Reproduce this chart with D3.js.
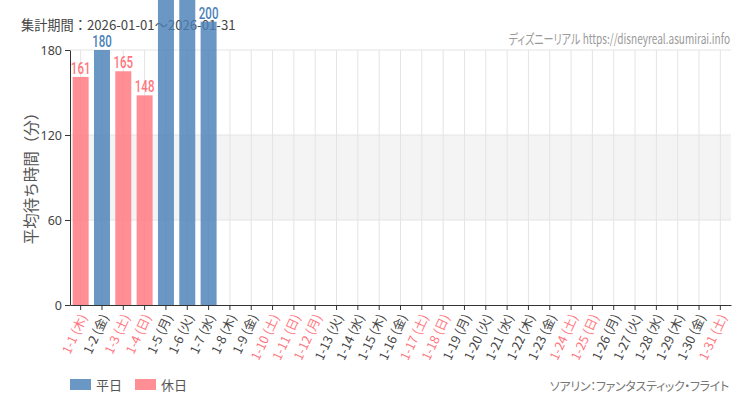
<!DOCTYPE html>
<html>
<head>
<meta charset="utf-8">
<script src="https://cdn.jsdelivr.net/npm/d3@7"></script>
<style>
  body { margin: 0; background: #fff; }
  text { font-family: "Noto Sans CJK JP", "Noto Sans", sans-serif; }
  .num { font-family: Roboto, "DejaVu Sans", sans-serif; font-weight: 500; }
  .palt { font-feature-settings: "palt"; }
</style>
</head>
<body>
<svg class="plot" width="750" height="410"></svg>
<script>
// data
var dates = ["1-1","1-2","1-3","1-4","1-5","1-6","1-7","1-8","1-9","1-10",
             "1-11","1-12","1-13","1-14","1-15","1-16","1-17","1-18","1-19","1-20",
             "1-21","1-22","1-23","1-24","1-25","1-26","1-27","1-28","1-29","1-30","1-31"];
var weekdays = ["木","金","土","日","月","火","水","木","金","土",
                "日","月","火","水","木","金","土","日","月","火",
                "水","木","金","土","日","月","火","水","木","金","土"];
var holidays = ["1-1","1-3","1-4","1-10","1-11","1-12","1-17","1-18","1-24","1-25","1-31"];
var waits = [161, 180, 165, 148, 230, 235, 200];   // 1-5, 1-6 run off the top
var yTicks = [0, 60, 120, 180];

var svg = d3.select(".plot"),
    margin = {top: 50, right: 19, bottom: 105, left: 70},
    width = +svg.attr("width") - margin.left - margin.right,
    height = +svg.attr("height") - margin.top - margin.bottom;

var blue = "#4a80b8", pink = "#ff767e";

var x = d3.scaleBand().domain(dates).range([0, width]).paddingInner(0.25).paddingOuter(0.125),
    y = d3.scaleLinear().domain([0, 180]).range([height, 0]);

var isHoliday = function(d) { return holidays.indexOf(d) >= 0; };

// header texts (drawn first, bars cover them)
svg.append("text")
    .attr("x", 21).attr("y", 30)
    .style("font-size", "13.2px").style("fill", "#444")
    .text("集計期間：2026-01-01～2026-01-31");

var g = svg.append("g")
    .attr("transform", "translate(" + margin.left + "," + margin.top + ")");

//background band and grid
g.append("rect")
    .attr("x", 0).attr("width", width)
    .attr("y", y(120)).attr("height", y(60) - y(120))
    .style("fill", "#f4f4f4");

g.selectAll(".hgrid")
    .data(yTicks.slice(1))
    .enter().append("line")
    .attr("x1", 0).attr("x2", width)
    .attr("y1", function(d) { return y(d); }).attr("y2", function(d) { return y(d); })
    .style("stroke", "#e4e4e4");

g.selectAll(".vgrid")
    .data(dates)
    .enter().append("line")
    .attr("x1", function(d) { return x(d) + x.bandwidth() / 2; })
    .attr("x2", function(d) { return x(d) + x.bandwidth() / 2; })
    .attr("y1", 0).attr("y2", height)
    .style("stroke", "#e4e4e4");

// watermark, squeezed to look condensed
svg.append("text")
    .attr("class", "palt")
    .attr("transform", "translate(730,44) scale(0.745,1)")
    .attr("text-anchor", "end")
    .style("font-size", "13.5px").style("fill", "#999")
    .text("ディズニーリアル https://disneyreal.asumirai.info");

//bars
var bars = dates.slice(0, waits.length).map(function(d, i) { return {date: d, v: waits[i]}; });

g.selectAll(".bar")
    .data(bars)
    .enter().append("rect")
    .attr("x", function(d) { return x(d.date); })
    .attr("y", function(d) { return y(d.v); })
    .attr("width", x.bandwidth())
    .attr("height", function(d) { return height - y(d.v); })
    .style("fill", function(d) { return isHoliday(d.date) ? pink : blue; })
    .style("opacity", 0.82);

// labels off the top of the picture are not shown
g.selectAll(".bar-label")
    .data(bars.filter(function(d) { return y(d.v) - 3 + margin.top > 12; }))
    .enter().append("text")
    .attr("class", "num")
    .attr("transform", function(d) {
      return "translate(" + (x(d.date) + x.bandwidth() / 2) + "," + (y(d.v) - 3) + ") scale(0.72,1)";
    })
    .attr("text-anchor", "middle")
    .style("font-size", "16px")
    .style("fill", function(d) { return isHoliday(d.date) ? pink : blue; })
    .text(function(d) { return d.v; });

//axes
var yAxis = g.append("g")
    .call(d3.axisLeft(y).tickValues(yTicks).tickSize(5).tickSizeOuter(0));
yAxis.selectAll("text").style("font-size", "12.5px").style("fill", "#444")
    .style("font-family", "'Noto Sans', sans-serif");
yAxis.selectAll("line, path").style("stroke", "#333");

var xAxis = g.append("g")
    .attr("transform", "translate(0," + height + ")")
    .call(d3.axisBottom(x).tickSize(5).tickSizeOuter(0));
xAxis.selectAll("text").remove();
xAxis.selectAll("line, path").style("stroke", "#333");

g.selectAll(".xlab")
    .data(dates)
    .enter().append("text")
    .attr("transform", function(d) {
      return "translate(" + (x(d) + x.bandwidth() / 2 + 3) + "," + (height + 10) + ") rotate(-65)";
    })
    .attr("dy", "0.35em")
    .attr("text-anchor", "end")
    .style("font-size", "12.5px")
    .style("fill", function(d) { return isHoliday(d) ? pink : "#444"; })
    .text(function(d, i) { return d + " (" + weekdays[i] + ")"; });

svg.append("text")
    .attr("transform", "translate(37," + (margin.top + height / 2 - 3) + ") rotate(-90)")
    .attr("text-anchor", "middle")
    .style("font-size", "15.5px").style("fill", "#555")
    .text("平均待ち時間（分）");

//legend
var legend = [{name: "平日", color: blue, x: 70}, {name: "休日", color: pink, x: 135}];
var lg = svg.selectAll(".legend")
    .data(legend)
    .enter().append("g")
    .attr("transform", function(d) { return "translate(" + d.x + ",379)"; });
lg.append("rect").attr("width", 21).attr("height", 11)
    .style("fill", function(d) { return d.color; }).style("opacity", 0.82);
lg.append("text").attr("x", 26).attr("y", 10.5)
    .style("font-size", "13px").style("fill", "#555")
    .text(function(d) { return d.name; });

svg.append("text")
    .attr("class", "palt")
    .attr("x", 729).attr("y", 391)
    .attr("text-anchor", "end")
    .style("font-size", "12px").style("letter-spacing", "-0.3px").style("fill", "#777")
    .text("ソアリン：ファンタスティック・フライト");
</script>
</body>
</html>
